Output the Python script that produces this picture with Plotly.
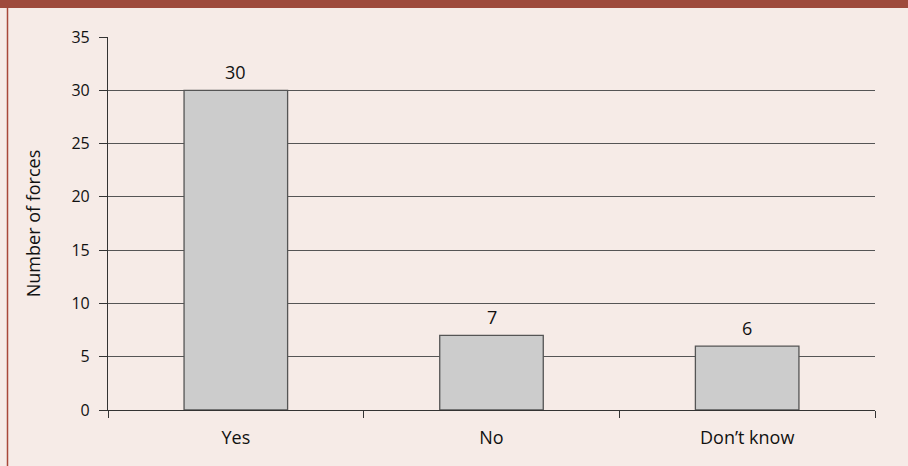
import plotly.graph_objects as go

categories = ["Yes", "No", "Don\u2019t know"]
values = [30, 7, 6]
y_ticks = [0, 5, 10, 15, 20, 25, 30, 35]

W, H = 908, 466
ML, MR, MT, MB = 108, 33, 37, 56
pw, ph = W - ML - MR, H - MT - MB

def px_x(x):
    return (x - ML) / pw

def px_y(y):
    return (H - MB - y) / ph

font = dict(family="Open Sans, Noto Sans, sans-serif", size=16, color="#111111")

fig = go.Figure(go.Bar(
    x=categories, y=values,
    width=0.405,
    marker=dict(color="#cccccc", line=dict(color="#555555", width=1.3)),
))

for c, v in zip(categories, values):
    fig.add_annotation(x=c, y=v, text=str(v), showarrow=False, yanchor="bottom",
                       yshift=4, font=dict(size=18, color="#111111"))

fig.update_layout(
    width=W, height=H,
    margin=dict(l=ML, r=MR, t=MT, b=MB, pad=0),
    paper_bgcolor="#f6ebe7", plot_bgcolor="#f6ebe7",
    font=font, showlegend=False, bargap=0.6,
    shapes=[
        dict(type="rect", xref="paper", yref="paper", x0=px_x(0), x1=px_x(W),
             y0=px_y(0), y1=px_y(8), fillcolor="#9e4a3c", line_width=0, layer="above"),
        dict(type="line", xref="paper", yref="paper", x0=px_x(7.5), x1=px_x(7.5),
             y0=px_y(8), y1=px_y(H), line=dict(color="#a8483a", width=1.5)),
    ],
)

fig.update_xaxes(
    showline=True, linecolor="#333333", linewidth=1.2,
    ticks="outside", tickson="boundaries", ticklen=7, tickcolor="#333333",
    showgrid=False, tickfont=dict(size=18), ticklabelstandoff=11,
)
fig.update_yaxes(
    range=[0, 35], tickvals=y_ticks, showline=True, linecolor="#333333", linewidth=1.2,
    ticks="outside", ticklen=8, tickcolor="#333333",
    showgrid=True, gridcolor="#555555", gridwidth=1, zeroline=False,
    tickfont=dict(size=16), ticklabelstandoff=6,
    title=dict(text="Number of forces", font=dict(size=18), standoff=26),
)

fig.write_html("out.html")
